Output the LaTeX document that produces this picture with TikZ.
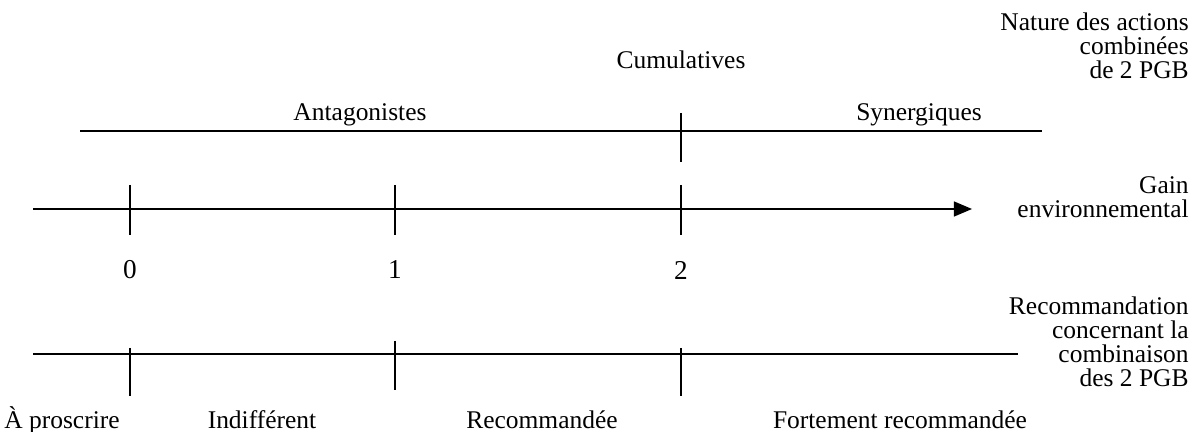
\documentclass[tikz,border=0pt]{standalone}
\usepackage{fontspec}
\setmainfont{Liberation Serif}
\usetikzlibrary{arrows}

\begin{document}
\begin{tikzpicture}[line cap=butt,line join=round,>=triangle 45,x=0.02cm,y=-0.02cm]
	\tikzset{axe/.style={line width=1.4pt},
		graduation/.style={line width=0.9pt},
		etiq/.style={font=\fontsize{14.5}{13.7}\selectfont,inner sep=0pt},
		chiffre/.style={etiq,font=\fontsize{15.5}{16}\selectfont},
		legende/.style={etiq,align=right,anchor=east}}
	\useasboundingbox (0,0) rectangle (1201,432);
	% nature des actions
	\draw [axe] (80,131) -- (1042,131);
	\draw [graduation] (681,113) -- (681,162);
	\node[etiq] (cumul) at (681,60) {Cumulatives};
	\node[etiq] (antag) at (360,115) {Antagonistes};
	\node[etiq] (synerg) at (919,115) {Synergiques};
	\node[legende] (nature) at (1189,46) {Nature des actions\\combinées\\de 2 PGB};
	% gain environnemental
	\draw [axe,->] (33,209) -- (972,209);
	\draw [graduation] (130,185) -- (130,235);
	\draw [graduation] (395,185) -- (395,235);
	\draw [graduation] (681,185) -- (681,235);
	\node[chiffre] (g0) at (130,270) {0};
	\node[chiffre] (g1) at (395,270) {1};
	\node[chiffre] (g2) at (681,270) {2};
	\node[legende] (gain) at (1189,197) {Gain\\environnemental};
	% recommandation
	\draw [axe] (33,354) -- (1018,354);
	\draw [graduation] (130,348) -- (130,396);
	\draw [graduation] (395,341) -- (395,390);
	\draw [graduation] (681,348) -- (681,396);
	\node[legende] (recom) at (1189,342) {Recommandation\\concernant la\\combinaison\\des 2 PGB};
	\node[etiq] (proscr) at (62,420) {À proscrire};
	\node[etiq] (indiff) at (262,420) {Indifférent};
	\node[etiq] (recomd) at (542,420) {Recommandée};
	\node[etiq] (fortem) at (900,420) {Fortement recommandée};
\end{tikzpicture}
\end{document}
